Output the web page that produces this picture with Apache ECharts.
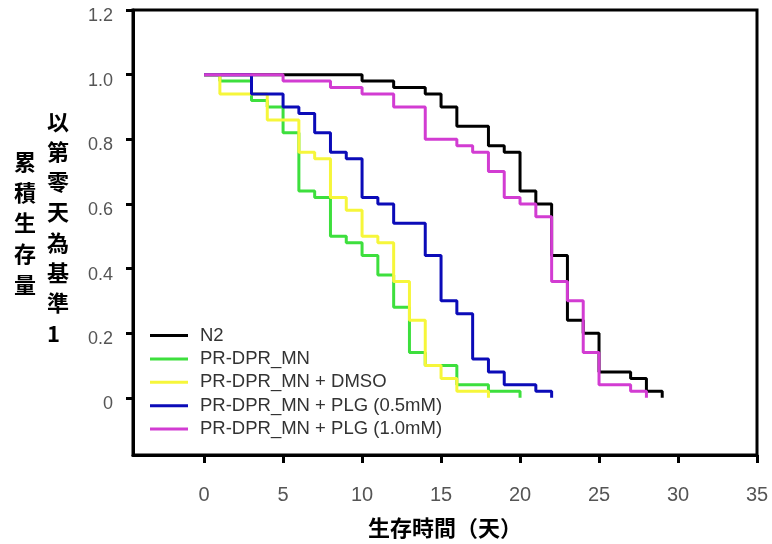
<!DOCTYPE html>
<html>
<head>
<meta charset="utf-8">
<script src="https://cdn.jsdelivr.net/npm/echarts@6/dist/echarts.min.js"></script>
<style>
  html, body { margin: 0; padding: 0; background: #fff; }
  #main { width: 772px; height: 544px; }
</style>
</head>
<body>
<div id="main"></div>
<script>
// 存活曲線資料 [天, 累積生存比例]
var n2 = [[0, 1], [10, 0.98], [12, 0.96], [14, 0.94], [15, 0.90], [16, 0.84], [18, 0.78], [19, 0.76],
    [20, 0.64], [21, 0.60], [22, 0.44], [23, 0.24], [24, 0.20], [25, 0.08], [27, 0.06], [28, 0.02], [29, 0]];
var prMn = [[0, 1], [1, 0.98], [3, 0.92], [4, 0.90], [5, 0.82], [6, 0.64], [7, 0.62], [8, 0.50], [9, 0.48],
    [10, 0.44], [11, 0.38], [12, 0.28], [13, 0.14], [14, 0.10], [16, 0.04], [18, 0.02], [20, 0]];
var prMnDmso = [[0, 1], [1, 0.94], [4, 0.86], [6, 0.76], [7, 0.74], [8, 0.62], [9, 0.58], [10, 0.50],
    [11, 0.48], [12, 0.36], [13, 0.24], [14, 0.10], [15, 0.06], [16, 0.02], [18, 0]];
var prMnPlg05 = [[0, 1], [3, 0.94], [5, 0.90], [6, 0.88], [7, 0.82], [8, 0.76], [9, 0.74], [10, 0.62],
    [11, 0.60], [12, 0.54], [14, 0.44], [15, 0.30], [16, 0.26], [17, 0.12], [18, 0.08], [19, 0.04], [21, 0.02], [22, 0]];
var prMnPlg10 = [[0, 1], [5, 0.98], [8, 0.96], [10, 0.94], [12, 0.90], [14, 0.80], [16, 0.78], [17, 0.76],
    [18, 0.70], [19, 0.62], [20, 0.60], [21, 0.56], [22, 0.36], [23, 0.30], [24, 0.14], [25, 0.04], [27, 0.02], [28, 0]];

var names = ['N2', 'PR-DPR_MN', 'PR-DPR_MN + DMSO', 'PR-DPR_MN + PLG (0.5mM)', 'PR-DPR_MN + PLG (1.0mM)'];
var colors = ['#000000', '#3ddf3d', '#f6f63a', '#0b0bb8', '#d23cd2'];
var xTicks = [0, 5, 10, 15, 20, 25, 30, 35];
var yTicks = [0, 0.2, 0.4, 0.6, 0.8, 1.0, 1.2];

var allData = [n2, prMn, prMnDmso, prMnPlg05, prMnPlg10];

var myChart = echarts.init(document.getElementById('main'));
var option = {
    animation: false,
    backgroundColor: '#fff',
    grid: {
        left: 133, right: 15, top: 10, bottom: 85,
        show: true, borderColor: '#000', borderWidth: 3
    },
    legend: {
        orient: 'vertical',
        left: 150,
        top: 326,
        padding: 0,
        icon: 'rect',
        itemWidth: 38,
        itemHeight: 3,
        itemGap: 4.4,
        data: names,
        textStyle: {
            fontFamily: 'Liberation Sans',
            fontSize: 18.5,
            color: '#333',
            padding: [0, 0, 0, 7]
        }
    },
    xAxis: {
        type: 'value',
        min: -4.5,
        max: 35,
        name: '生存時間（天）',
        nameLocation: 'middle',
        nameGap: 62,
        nameTextStyle: { fontFamily: 'Noto Sans CJK TC', fontSize: 22, fontWeight: 'bold', color: '#000' },
        splitLine: { show: false },
        axisLine: { onZero: false, lineStyle: { color: '#000', width: 3 } },
        axisTick: { customValues: xTicks, length: 8, lineStyle: { color: '#000', width: 3 } },
        axisLabel: {
            customValues: xTicks,
            margin: 30,
            fontFamily: 'Liberation Sans',
            fontSize: 20,
            color: '#555'
        }
    },
    yAxis: {
        type: 'value',
        min: -0.177,
        max: 1.2,
        splitLine: { show: false },
        axisLine: { onZero: false, lineStyle: { color: '#000', width: 3 } },
        axisTick: { customValues: yTicks, length: 7, lineStyle: { color: '#000', width: 3 } },
        axisLabel: {
            customValues: yTicks,
            margin: 20,
            color: '#555',
            formatter: function (v) { return '{t|' + (v === 0 ? '0' : v.toFixed(1)) + '}'; },
            rich: {
                t: {
                    fontFamily: 'Liberation Sans',
                    fontSize: 18,
                    color: '#555',
                    padding: [12, 0, 0, 0]
                }
            }
        }
    },
    graphic: [
        {
            type: 'text', left: 14, top: 146,
            style: {
                text: '累\n積\n生\n存\n量',
                font: 'bold 22px "Noto Sans CJK TC"',
                lineHeight: 30.8,
                fill: '#000',
                align: 'center'
            }
        },
        {
            type: 'text', left: 47, top: 106,
            style: {
                text: '以\n第\n零\n天\n為\n基\n準\n1',
                font: 'bold 22px "Noto Sans CJK TC"',
                lineHeight: 30.3,
                fill: '#000',
                align: 'center'
            }
        }
    ],
    series: allData.map(function (d, i) {
        return {
            name: names[i],
            type: 'line',
            step: 'end',
            symbol: 'none',
            data: d,
            itemStyle: { color: colors[i] },
            lineStyle: { color: colors[i], width: 3 }
        };
    })
};
myChart.setOption(option);
</script>
</body>
</html>
